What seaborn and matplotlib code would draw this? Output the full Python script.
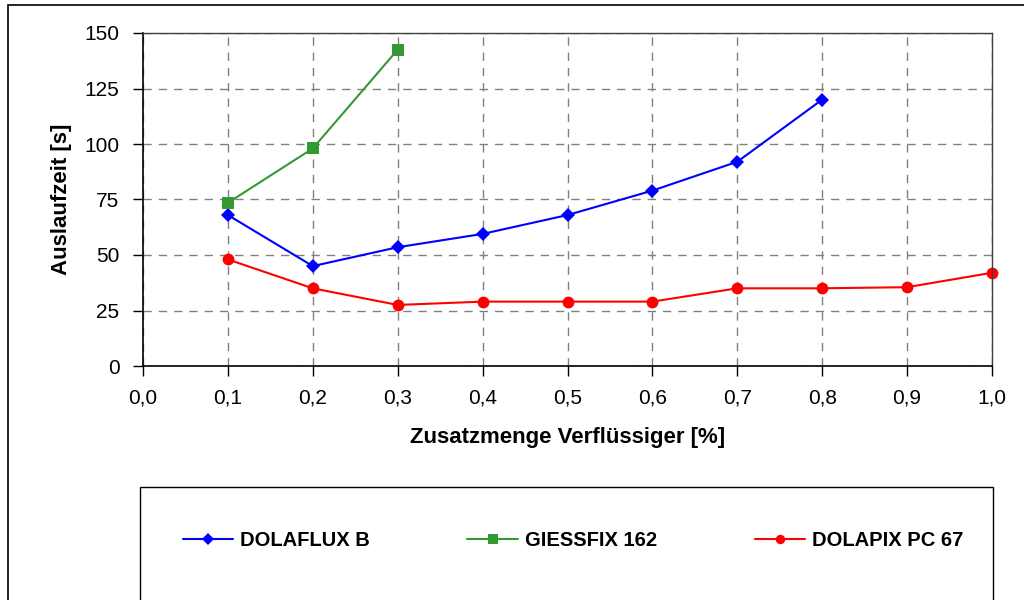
import numpy as np
import pandas as pd
import matplotlib
matplotlib.use("Agg")
import matplotlib.pyplot as plt
import seaborn as sns
from matplotlib.patches import Rectangle

sns.set_theme(style="white")
plt.rcParams['font.family'] = ['Liberation Sans', 'DejaVu Sans']
plt.rcParams['text.color'] = 'black'
plt.rcParams['axes.labelcolor'] = 'black'

series_names = ["DOLAFLUX B", "GIESSFIX 162", "DOLAPIX PC 67"]
x_dolaflux = [0.1, 0.2, 0.3, 0.4, 0.5, 0.6, 0.7, 0.8]
y_dolaflux = [68, 45, 53.5, 59.5, 68, 79, 92, 120]
x_giessfix = [0.1, 0.2, 0.3]
y_giessfix = [73.5, 98, 142.5]
x_dolapix = [0.1, 0.2, 0.3, 0.4, 0.5, 0.6, 0.7, 0.8, 0.9, 1.0]
y_dolapix = [48, 35, 27.5, 29, 29, 29, 35, 35, 35.5, 42]
colors = {"DOLAFLUX B": "#0000FF", "GIESSFIX 162": "#339933", "DOLAPIX PC 67": "#FF0000"}
markers = {"DOLAFLUX B": "D", "GIESSFIX 162": "s", "DOLAPIX PC 67": "o"}
msizes = {"DOLAFLUX B": 7.5, "GIESSFIX 162": 8.5, "DOLAPIX PC 67": 8.5}

df = pd.concat([
    pd.DataFrame({"x": x_dolaflux, "y": y_dolaflux, "s": series_names[0]}),
    pd.DataFrame({"x": x_giessfix, "y": y_giessfix, "s": series_names[1]}),
    pd.DataFrame({"x": x_dolapix, "y": y_dolapix, "s": series_names[2]}),
])

fig = plt.figure(figsize=(10.24, 6.0), dpi=100)
ax = fig.add_axes([143/1024, 1-366/600, (992-143)/1024, (366-33)/600])

for name in series_names:
    sub = df[df.s == name]
    sns.lineplot(data=sub, x="x", y="y", ax=ax, color=colors[name], marker=markers[name],
                 markersize=msizes[name], markeredgewidth=0, linewidth=1.5, label=name,
                 legend=False, sort=False, clip_on=False)

ax.set_xlim(0, 1.0)
ax.set_ylim(0, 150)
xt = np.round(np.arange(0, 1.01, 0.1), 1)
ax.set_xticks(xt)
ax.set_xticklabels([f"{v:.1f}".replace(".", ",") for v in xt])
ax.set_yticks([0, 25, 50, 75, 100, 125, 150])
ax.grid(True, linestyle=(0, (6, 5)), color="#808080", linewidth=1)
ax.tick_params(axis="both", which="both", direction="out", length=7, width=1, color="black",
               labelsize=15, labelcolor="black", bottom=True, left=True, pad=4)
ax.tick_params(axis="x", pad=9)
ax.tick_params(axis="y", pad=10)
for sp in ["left", "bottom"]:
    ax.spines[sp].set_color("black")
    ax.spines[sp].set_linewidth(1.2)
for sp in ["top", "right"]:
    ax.spines[sp].set_color("#404040")
    ax.spines[sp].set_linewidth(1.0)
ax.set_xlabel("Zusatzmenge Verflüssiger [%]", fontsize=16, fontweight="bold")
ax.set_ylabel("Auslaufzeit [s]", fontsize=16, fontweight="bold")
ax.xaxis.set_label_coords(0.5, (366-427)/333)
ax.yaxis.set_label_coords((72-143)/849, 0.5)

# outer frame
fig.patches.append(Rectangle((8/1024, -0.1), 1.2, 1-5/600+0.1, transform=fig.transFigure,
                             fill=False, edgecolor="black", linewidth=1.2))
# legend frame
fig.patches.append(Rectangle((140/1024, -0.1), (993-140)/1024, 1-487/600+0.1,
                             transform=fig.transFigure, fill=False, edgecolor="black", linewidth=1.0))

h, l = ax.get_legend_handles_labels()
leg = fig.legend(h, l, loc="center", bbox_to_anchor=(573/1024, 1-541/600), ncol=3,
                 frameon=False, prop={"size": 14.5, "weight": "bold"}, handlelength=2.5,
                 columnspacing=4.85, handletextpad=0.35, markerscale=0.8)

fig.savefig("out.png", dpi=100)
